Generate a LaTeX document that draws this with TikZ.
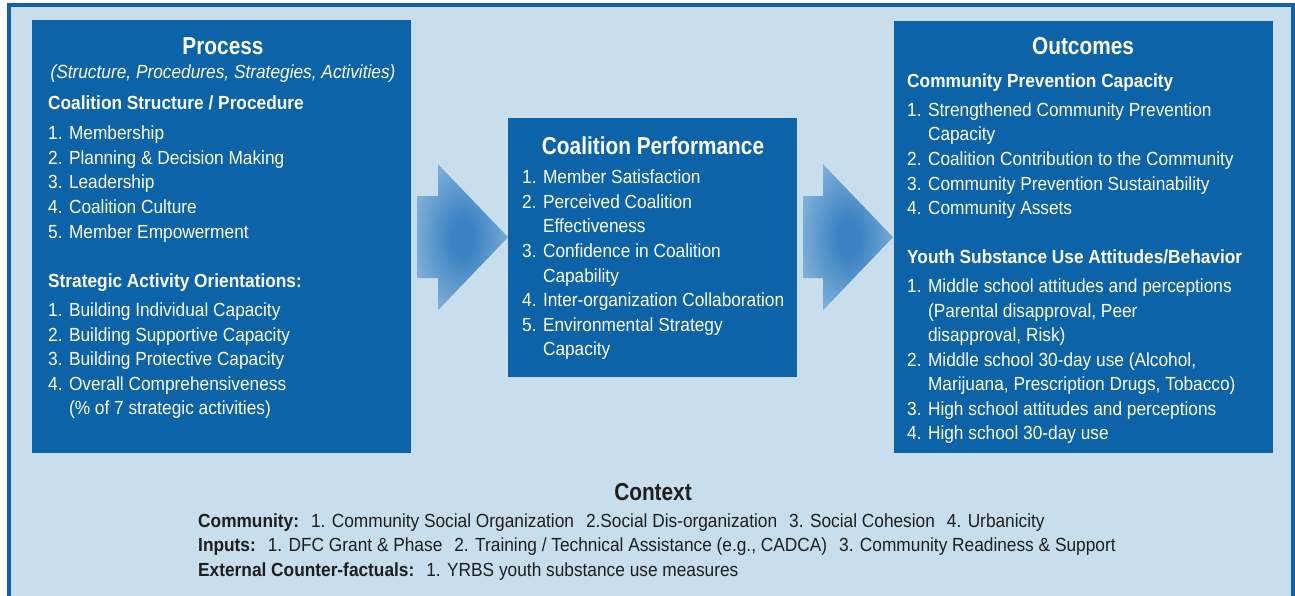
\documentclass[tikz,border=0pt]{standalone}
\usepackage{fontspec}
\setmainfont{Liberation Sans}[FakeStretch=0.91]
\newfontfamily\titlefont{Liberation Sans}[FakeStretch=0.85]
\usetikzlibrary{calc}

\definecolor{frameblue}{RGB}{18,98,170}
\definecolor{panelblue}{RGB}{13,99,168}
\definecolor{paleblue}{RGB}{200,222,236}
\definecolor{glowdark}{RGB}{58,130,194}
\definecolor{glowlight}{RGB}{172,205,230}
\definecolor{ctxtext}{RGB}{30,30,30}

\pgfdeclareradialshading{arrowglow}{\pgfpoint{0bp}{0bp}}{%
  color(0bp)=(glowdark); color(6bp)=(glowdark); color(42bp)=(glowlight); color(50bp)=(glowlight)}

\tikzset{
  panel/.style={fill=panelblue, inner sep=0pt, anchor=north west},
  flowarrow/.style={shading=arrowglow},
  boxtitle/.style={text=white, font=\titlefont\fontsize{24.5}{28}\selectfont\bfseries, anchor=base, inner sep=0pt},
  subhead/.style={text=white, font=\fontsize{19}{22}\selectfont\bfseries, anchor=base west, inner sep=0pt},
  entry/.style={text=white, font=\fontsize{19}{22}\selectfont, anchor=base west, inner sep=0pt},
  ctxline/.style={text=ctxtext, font=\fontsize{19}{22}\selectfont, anchor=base west, inner sep=0pt}
}

\newcommand\ctxgap{\hspace{12pt}}

% block arrow from a tail point to a tip point
\newcommand\blockarrow[2]{%
  \path[flowarrow] let \p1=(#1), \p2=(#2) in
    (\x1,\y2+41pt) -- (\x2-70pt,\y2+41pt) -- (\x2-70pt,\y2+73pt) -- (\p2)
    -- (\x2-70pt,\y2-73pt) -- (\x2-70pt,\y2-41pt) -- (\x1,\y2-41pt) -- cycle;}

\begin{document}
\begin{tikzpicture}[x=1pt,y=-1pt]
\useasboundingbox (0,0) rectangle (1295,596);
\draw[frameblue, line width=3.5pt, fill=paleblue] (9,5) rectangle (1293,640);

% the three panels
\node[panel, minimum width=379pt, minimum height=433pt] (process) at (32,20) {};
\node[panel, minimum width=289pt, minimum height=259pt] (perf) at (508,118) {};
\node[panel, minimum width=379pt, minimum height=432pt] (outcome) at (894,21) {};

% arrows between the panels
\coordinate (tailA) at ($(process.east)+(6,0)$);
\coordinate (tipA) at ($(perf.west)+(0,-10.5)$);
\coordinate (tailB) at ($(perf.east)+(6,0)$);
\coordinate (tipB) at ($(outcome.west)+(-1,0)$);
\blockarrow{tailA}{tipA}
\blockarrow{tailB}{tipB}

% process
\node[boxtitle] (ptitle) at (223,55) {Process};
\node[entry, anchor=base, font=\fontsize{19}{22}\selectfont\itshape] (psub) at (223,79) {(Structure, Procedures, Strategies, Activities)};
\node[subhead] (phead1) at (48,110) {Coalition Structure / Procedure};
\foreach \t [count=\i from 0] in {1. Membership, 2. Planning \& Decision Making, 3. Leadership, 4. Coalition Culture, 5. Member Empowerment}
  \node[entry] (pa\i) at (48,{140+24.5*\i}) {\t};
\node[subhead] (phead2) at (48,287.5) {Strategic Activity Orientations:};
\foreach \t [count=\i from 0] in {1. Building Individual Capacity, 2. Building Supportive Capacity, 3. Building Protective Capacity, 4. Overall Comprehensiveness, \phantom{4. }(\% of 7 strategic activities)}
  \node[entry] (pb\i) at (48,{316.5+24.5*\i}) {\t};

% coalition performance
\node[boxtitle] (ctitle) at (653,155) {Coalition Performance};
\foreach \t [count=\i from 0] in {1. Member Satisfaction, 2. Perceived Coalition, \phantom{2. }Effectiveness, 3. Confidence in Coalition, \phantom{3. }Capability, 4. Inter-organization Collaboration, 5. Environmental Strategy, \phantom{5. }Capacity}
  \node[entry] (c\i) at (522,{184+24.5*\i}) {\t};

% outcomes
\node[boxtitle] (otitle) at (1083,55) {Outcomes};
\node[subhead] (ohead1) at (907,87.5) {Community Prevention Capacity};
\foreach \t [count=\i from 0] in {1. Strengthened Community Prevention, \phantom{1. }Capacity, 2. Coalition Contribution to the Community, 3. Community Prevention Sustainability, 4. Community Assets}
  \node[entry] (oa\i) at (907,{116.5+24.5*\i}) {\t};
\node[subhead] (ohead2) at (907,263) {Youth Substance Use Attitudes/Behavior};
\foreach \t [count=\i from 0] in {1. Middle school attitudes and perceptions, {\phantom{1. }(Parental disapproval, Peer}, {\phantom{1. }disapproval, Risk)}, {2. Middle school 30-day use (Alcohol,}, {\phantom{2. }Marijuana, Prescription Drugs, Tobacco)}, 3. High school attitudes and perceptions, 4. High school 30-day use}
  \node[entry] (ob\i) at (907,{292.5+24.5*\i}) {\t};

% context
\node[boxtitle, text=ctxtext] (ctx) at (653,500) {Context};
\node[ctxline] (ctx1) at (198,527) {\textbf{Community:}\ctxgap 1. Community Social Organization\ctxgap 2.Social Dis-organization\ctxgap 3. Social Cohesion\ctxgap 4. Urbanicity};
\node[ctxline] (ctx2) at (198,551.5) {\textbf{Inputs:}\ctxgap 1. DFC Grant \& Phase\ctxgap 2. Training / Technical Assistance (e.g., CADCA)\ctxgap 3. Community Readiness \& Support};
\node[ctxline] (ctx3) at (198,576) {\textbf{External Counter-factuals:}\ctxgap 1. YRBS youth substance use measures};
\end{tikzpicture}
\end{document}
